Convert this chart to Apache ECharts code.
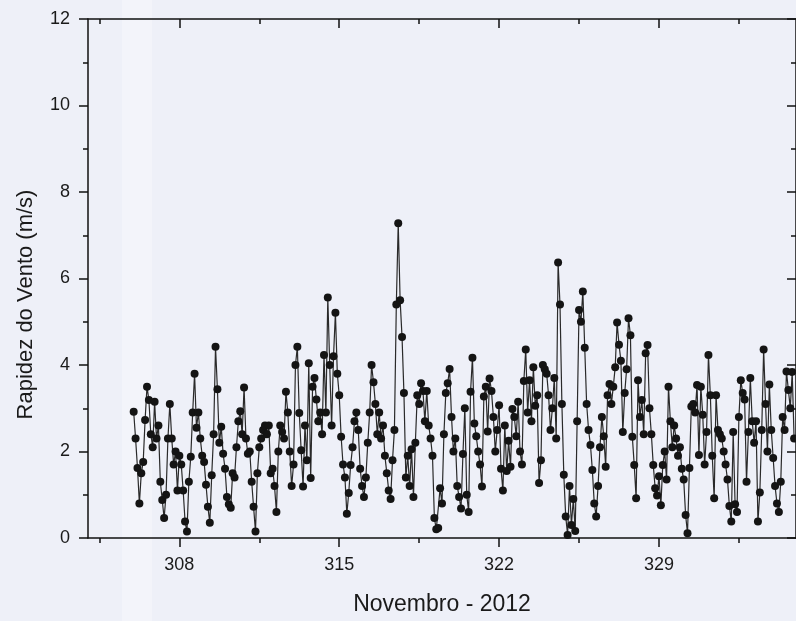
<!DOCTYPE html>
<html>
<head>
<meta charset="utf-8">
<title>Rapidez do Vento - Novembro 2012</title>
<script src="https://cdn.jsdelivr.net/npm/echarts@6/dist/echarts.min.js"></script>
<style>
  html, body { margin: 0; padding: 0; background: #eef0f8; }
  #chart { width: 796px; height: 621px; }
</style>
</head>
<body>
<div id="chart"></div>
<script>
// wind speed (m/s), 12 readings per day, starting at day 306 (1 Nov 2012)
const firstDay = 306;
const perDay = 12;

const week1 = [
  2.92, 2.3, 1.62, 0.8, 1.5, 1.76, 2.73, 3.5, 3.19, 2.4, 2.1, 3.15,
  2.3, 2.6, 1.3, 0.88, 0.46, 1.0, 2.3, 3.1, 2.3, 1.7, 2.0, 1.1,
  1.9, 1.7, 1.1, 0.38, 0.15, 1.3, 1.88, 2.9, 3.8, 2.55, 2.9, 2.3,
  1.9, 1.76, 1.23, 0.72, 0.35, 1.45, 2.4, 4.42, 3.44, 2.2, 2.57, 1.95,
  1.6, 0.95, 0.78, 0.7, 1.5, 1.4, 2.1, 2.7, 2.93, 2.4, 3.48, 2.3,
  1.95, 2.0, 1.3, 0.72, 0.15, 1.5, 2.1, 2.3, 2.5, 2.6, 2.4, 2.6,
  1.5, 1.6, 1.2, 0.6, 2.0, 2.6, 2.45, 2.3, 3.38, 2.9, 2.0, 1.2
];
const week2 = [
  1.7, 4.0, 4.42, 2.89, 2.03, 1.19, 2.6, 1.8, 4.04, 1.39, 3.5, 3.7,
  3.2, 2.7, 2.9, 2.4, 4.23, 2.9, 5.56, 4.0, 2.6, 4.2, 5.21, 3.8,
  3.3, 2.34, 1.7, 1.4, 0.56, 1.04, 1.69, 2.1, 2.7, 2.9, 2.5, 1.6,
  1.2, 0.95, 1.4, 2.2, 2.9, 4.0, 3.6, 3.1, 2.4, 2.9, 2.3, 2.6,
  1.9, 1.5, 1.1, 0.9, 1.8, 2.5, 5.4, 7.28, 5.5, 4.65, 3.35, 1.4,
  1.9, 1.2, 2.05, 0.95, 2.2, 3.3, 3.1, 3.58, 3.4, 2.7, 3.4, 2.6,
  2.3, 1.9, 0.46, 0.2, 0.23, 1.15, 0.8, 2.4, 3.35, 3.58, 3.91, 2.8
];
const week3 = [
  2.0, 2.3, 1.2, 0.95, 0.68, 1.94, 3.0, 1.0, 0.6, 3.38, 4.17, 2.65,
  2.35, 2.0, 1.7, 1.19, 3.27, 3.5, 2.46, 3.69, 3.4, 2.8, 2.0, 2.5,
  3.07, 1.6, 1.1, 2.6, 1.55, 2.25, 1.65, 2.98, 2.8, 2.35, 3.15, 2.0,
  1.7, 3.63, 4.36, 2.9, 3.65, 2.7, 3.95, 3.06, 3.3, 1.27, 1.8, 4.0,
  3.9, 3.8, 3.3, 2.5, 3.0, 3.7, 2.3, 6.37, 5.4, 3.1, 1.46, 0.5,
  0.07, 1.2, 0.3, 0.9, 0.16, 2.7, 5.27, 5.0, 5.7, 4.4, 3.1, 2.5,
  2.15, 1.57, 0.8, 0.5, 1.2, 2.1, 2.8, 2.35, 1.65, 3.3, 3.56, 3.1
];
const week4 = [
  3.5, 3.95, 4.98, 4.47, 4.1, 2.45, 3.35, 3.9, 5.08, 4.69, 2.34, 1.69,
  0.92, 3.65, 2.8, 3.19, 2.4, 4.27, 4.46, 3.0, 2.4, 1.69, 1.15, 0.98,
  1.43, 0.76, 1.69, 2.0, 1.35, 3.5, 2.7, 2.1, 2.6, 2.3, 1.9, 2.1,
  1.6, 1.35, 0.53, 0.11, 1.62, 3.04, 3.1, 2.9, 3.54, 1.92, 3.5, 2.85,
  1.7, 2.45, 4.23, 3.3, 1.9, 0.92, 3.3, 2.5, 2.4, 2.3, 2.0, 1.7,
  1.35, 0.74, 0.38, 2.45, 0.78, 0.6, 2.8, 3.65, 3.35, 3.2, 1.3, 2.45,
  3.7, 2.7, 2.2, 2.7, 0.38, 1.05, 2.5, 4.36, 3.1, 2.0, 3.55, 2.5
];
const week5 = [
  1.85, 1.2, 0.8, 0.6, 1.3, 2.8, 2.5, 3.85, 3.42, 3.0, 3.84, 2.3
];

const majorDays = [308, 315, 322, 329];
const minorDays = [304.5, 311.5, 318.5, 325.5, 332.5];

const speeds = [...week1, ...week2, ...week3, ...week4, ...week5];
const seriesData = speeds.map((v, i) => [firstDay + i / perDay, v]);

const textColor = "#1a1a1a";
const font = "Liberation Sans";

const chart = echarts.init(document.getElementById("chart"));

const baseX = {
  type: "value",
  min: 304,
  max: 335,
  splitLine: { show: false },
  axisLine: { show: false },
  axisLabel: { show: false },
};

chart.setOption({
  animation: false,
  backgroundColor: "#eef0f8",
  graphic: [
    {
      type: "rect",
      z: -10,
      silent: true,
      shape: { x: 122, y: 0, width: 30, height: 621 },
      style: { fill: "rgba(255,255,255,0.3)" },
    },
  ],
  grid: { left: 88, top: 19, width: 713, height: 519 },
  xAxis: [
    {
      ...baseX,
      position: "bottom",
      name: "Novembro - 2012",
      nameLocation: "middle",
      nameGap: 55,
      nameTextStyle: { fontFamily: font, fontSize: 23, color: textColor },
      axisLine: { show: true, lineStyle: { color: "#111", width: 1.5 } },
      axisTick: {
        show: true,
        inside: false,
        length: 9,
        customValues: majorDays,
        lineStyle: { color: "#111", width: 1.5 },
      },
      axisLabel: {
        show: true,
        margin: 18,
        customValues: majorDays,
        fontFamily: font,
        fontSize: 18,
        color: textColor,
      },
    },
    {
      ...baseX,
      position: "bottom",
      axisTick: {
        show: true,
        inside: false,
        length: 5,
        customValues: minorDays,
        lineStyle: { color: "#111", width: 1.5 },
      },
    },
    {
      ...baseX,
      position: "top",
      axisLine: { show: true, lineStyle: { color: "#111", width: 1.5 } },
      axisTick: {
        show: true,
        inside: true,
        length: 9,
        customValues: majorDays,
        lineStyle: { color: "#111", width: 1.5 },
      },
    },
    {
      ...baseX,
      position: "top",
      axisTick: {
        show: true,
        inside: true,
        length: 5,
        customValues: minorDays,
        lineStyle: { color: "#111", width: 1.5 },
      },
    },
  ],
  yAxis: [
    {
      type: "value",
      position: "left",
      min: 0,
      max: 12,
      interval: 2,
      name: "Rapidez do Vento (m/s)",
      nameLocation: "middle",
      nameGap: 51,
      // shifted down a little, as in the original figure
      nameTextStyle: { fontFamily: font, fontSize: 22, color: textColor, padding: [0, 52, 0, 0] },
      splitLine: { show: false },
      axisLine: { show: true, lineStyle: { color: "#111", width: 1.5 } },
      axisTick: { show: true, inside: false, length: 9, lineStyle: { color: "#111", width: 1.5 } },
      minorTick: { show: true, splitNumber: 2, length: 5, lineStyle: { color: "#111", width: 1.5 } },
      axisLabel: { margin: 18, fontFamily: font, fontSize: 18, color: textColor },
    },
    {
      type: "value",
      position: "right",
      min: 0,
      max: 12,
      interval: 2,
      splitLine: { show: false },
      axisLine: { show: true, lineStyle: { color: "#111", width: 1.5 } },
      axisTick: { show: true, inside: true, length: 9, lineStyle: { color: "#111", width: 1.5 } },
      minorTick: { show: true, splitNumber: 2, length: 5, lineStyle: { color: "#111", width: 1.5 } },
      axisLabel: { show: false },
    },
  ],
  series: [
    {
      name: "Rapidez do Vento",
      type: "line",
      xAxisIndex: 0,
      yAxisIndex: 0,
      data: seriesData,
      symbol: "circle",
      symbolSize: 8,
      showSymbol: true,
      showAllSymbol: true,
      itemStyle: { color: "#141414" },
      lineStyle: { color: "#2a2a2a", width: 1.2 },
    },
  ],
});
</script>
</body>
</html>
